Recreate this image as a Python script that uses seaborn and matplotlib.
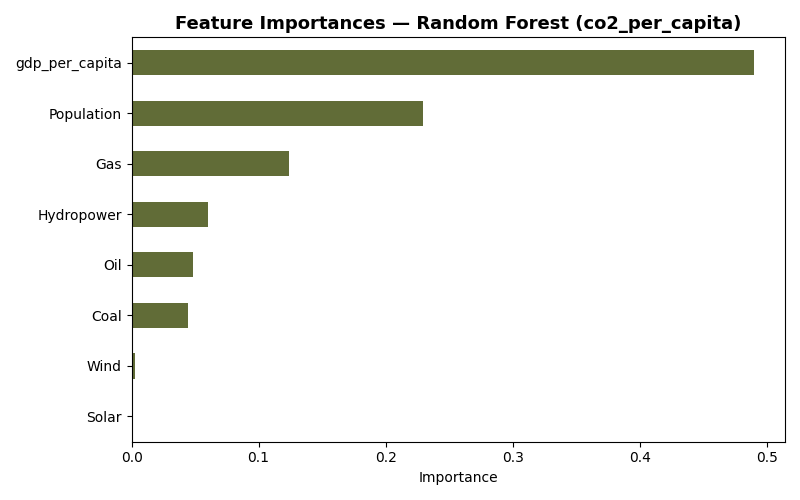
import seaborn as sns
import matplotlib.pyplot as plt
import pandas as pd

# feature importances
features = ['gdp_per_capita', 'Population', 'Gas', 'Hydropower', 'Oil', 'Coal', 'Wind', 'Solar']
importances = [0.490, 0.2296, 0.124, 0.0598, 0.0487, 0.0448, 0.0024, 0.0003]

data = pd.DataFrame({'Feature': features, 'Importance': importances})

plt.figure(figsize=(8, 5), dpi=100)
ax = sns.barplot(x='Importance', y='Feature', data=data, orient='h',
                 color='#616C37', width=0.5, saturation=1)

ax.set_xlim(0, max(importances) * 1.05)
ax.set_xlabel('Importance')
ax.set_ylabel('')
ax.set_title('Feature Importances — Random Forest (co2_per_capita)',
             fontsize=13, fontweight='bold')

plt.tight_layout()
plt.savefig('out.png')
